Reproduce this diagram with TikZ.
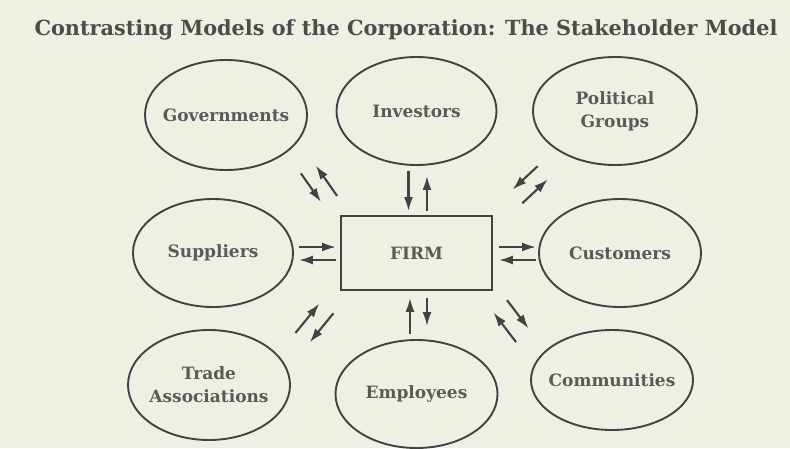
\documentclass[tikz,border=0pt]{standalone}
\usepackage{fontspec}
\setmainfont{DejaVu Serif}
\usetikzlibrary{shapes.geometric,arrows.meta}
\definecolor{paper}{HTML}{EFF0E3}
\definecolor{ink}{HTML}{424246}
\definecolor{print}{HTML}{5A5A5A}

\begin{document}
\begin{tikzpicture}[x=1pt,y=-1pt,
  party/.style={ellipse,draw=ink,line width=1.9pt,minimum width=162pt,minimum height=108pt,
    inner xsep=-25pt,inner ysep=0pt,text=print,align=center,
    font=\bfseries\fontsize{17}{23}\selectfont},
  firmbox/.style={rectangle,draw=ink,line width=1.9pt,minimum width=151pt,minimum height=74pt,
    text=print,font=\bfseries\fontsize{17}{23}\selectfont},
  flow/.style={draw=ink,line width=2.1pt,-{Latex[length=14pt,width=9pt]}}]
\fill[paper] (0,0) rectangle (790,448);
\useasboundingbox (0,0) rectangle (790,448);

\node[text=print!85!black,font=\bfseries\fontsize{20.8}{24}\selectfont] (title) at (406,30)
  {Contrasting Models of the Corporation: The Stakeholder Model};

\node[party,minimum height=110pt] (gov) at (226,115)   {Governments};
\node[party,minimum width=160pt]  (inv) at (416.5,111) {Investors};
\node[party,minimum width=164pt]  (pol) at (615,111)   {Political\\Groups};
\node[party,minimum width=160pt]  (sup) at (213,253)   {Suppliers};
\node[firmbox]                    (firm) at (416.5,253) {FIRM};
\node[party]                      (cus) at (620,253)   {Customers};
\node[party,minimum height=110pt] (tra) at (209,385)   {Trade\\Associations};
\node[party]                      (emp) at (416.5,394) {Employees};
\node[party,minimum height=100pt] (com) at (612,380)   {Communities};

% up and down
\draw[flow,shorten <=5pt,shorten >=4pt]  ([shift={(-8,0)}]inv.south)    -- ([shift={(-8,0)}]firm.north);
\draw[flow,shorten <=4pt,shorten >=10pt] ([shift={(10.5,0)}]firm.north)  -- ([shift={(10.5,0)}]inv.south);
\draw[flow,shorten <=5pt,shorten >=7pt]  ([shift={(-6.5,0)}]emp.north)   -- ([shift={(-6.5,0)}]firm.south);
\draw[flow,shorten <=7pt,shorten >=13pt] ([shift={(10.5,0)}]firm.south)  -- ([shift={(10.5,0)}]emp.north);

% left and right
\draw[flow,shorten <=5pt,shorten >=4pt] ([shift={(0,-6)}]sup.east)  -- ([shift={(0,-6)}]firm.west);
\draw[flow,shorten <=4pt,shorten >=5pt] ([shift={(0,7)}]firm.west)  -- ([shift={(0,7)}]sup.east);
\draw[flow,shorten <=6pt,shorten >=2pt] ([shift={(0,-6)}]firm.east) -- ([shift={(0,-6)}]cus.west);
\draw[flow,shorten <=2pt,shorten >=6pt] ([shift={(0,7)}]cus.west)   -- ([shift={(0,7)}]firm.east);

% corners
\draw[flow,shorten <=25.8pt,shorten >=21.7pt] ([shift={(-6.6,4.7)}]gov.-26)        -- ([shift={(-6.6,4.7)}]firm.north west);
\draw[flow,shorten <=17.3pt,shorten >=28.1pt] ([shift={(7,-5)}]firm.north west)     -- ([shift={(7,-5)}]gov.-26);
\draw[flow,shorten <=26pt,shorten >=31.8pt]   ([shift={(-3.6,-3.8)}]pol.-143)       -- ([shift={(-3.6,-3.8)}]firm.north east);
\draw[flow,shorten <=29.5pt,shorten >=27.6pt] ([shift={(7.8,8.3)}]firm.north east)  -- ([shift={(7.8,8.3)}]pol.-143);
\draw[flow,shorten <=15.9pt,shorten >=28.2pt] ([shift={(4.4,-3.4)}]firm.south east) -- ([shift={(4.4,-3.4)}]com.160);
\draw[flow,shorten <=25.1pt,shorten >=17.4pt] ([shift={(-10,7.8)}]com.160)         -- ([shift={(-10,7.8)}]firm.south east);
\draw[flow,shorten <=29.5pt,shorten >=22.9pt] ([shift={(-6.2,-5.1)}]tra.18)         -- ([shift={(-6.2,-5.1)}]firm.south west);
\draw[flow,shorten <=21.5pt,shorten >=31.4pt] ([shift={(6.9,5.7)}]firm.south west)  -- ([shift={(6.9,5.7)}]tra.18);
\end{tikzpicture}
\end{document}
